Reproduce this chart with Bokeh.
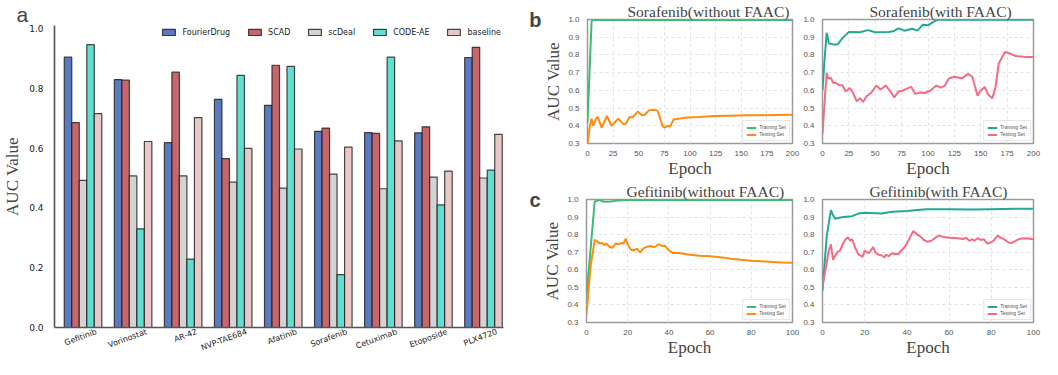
from bokeh.plotting import figure
from bokeh.layouts import row, column
from bokeh.models import (ColumnDataSource, Range1d, FixedTicker, Legend, LegendItem,
                          LinearAxis, PrintfTickFormatter)
from bokeh.transform import dodge
from bokeh.embed import file_html
from bokeh.resources import INLINE

# ---------------- panel a data ----------------
drugs = ["Gefitinib", "Vorinostat", "AR-42", "NVP-TAE684", "Afatinib",
         "Sorafenib", "Cetuximab", "Etoposide", "PLX4720"]
methods = ["FourierDrug", "SCAD", "scDeal", "CODE-AE", "baseline"]
fourierdrug = [0.904, 0.829, 0.618, 0.763, 0.743, 0.656, 0.652, 0.651, 0.903]
scad = [0.685, 0.827, 0.854, 0.565, 0.877, 0.667, 0.649, 0.671, 0.937]
scdeal = [0.492, 0.507, 0.507, 0.486, 0.466, 0.513, 0.464, 0.503, 0.500]
code_ae = [0.946, 0.330, 0.229, 0.843, 0.873, 0.177, 0.904, 0.410, 0.526]
baseline = [0.715, 0.622, 0.702, 0.599, 0.597, 0.603, 0.624, 0.523, 0.646]
method_colors = ["#5b7bc0", "#c9666c", "#d3d3d3", "#62ddd2", "#e9c8c8"]
a_yticks = [0.0, 0.2, 0.4, 0.6, 0.8, 1.0]

# ---------------- panel b/c data ----------------
sor_wo_train_x = [0, 4, 5, 25, 50, 75, 100, 125, 150, 175, 200]
sor_wo_train_y = [0.42, 0.99, 0.997, 0.997, 0.997, 0.997, 0.997, 0.997, 0.997, 0.997, 0.997]
sor_wo_test_x = [0, 2.4, 3.9, 5.4, 8.4, 10, 13.8, 19, 23.4, 30, 35, 37.5, 41, 44, 49, 53, 56,
                 60, 64, 68, 70.5, 73, 75, 78.4, 80.5, 84, 89, 97, 109, 124, 139, 154, 169, 185, 200]
sor_wo_test_y = [0.30, 0.40, 0.44, 0.40, 0.44, 0.45, 0.39, 0.455, 0.40, 0.44, 0.41, 0.412, 0.45,
                 0.448, 0.48, 0.46, 0.462, 0.487, 0.49, 0.487, 0.45, 0.40, 0.39, 0.40, 0.395,
                 0.435, 0.44, 0.447, 0.45, 0.455, 0.457, 0.459, 0.46, 0.461, 0.462]

sor_w_train_x = [0, 2, 4, 6, 11.4, 14.4, 19, 25, 35.5, 43, 50, 62.5, 67, 72, 77.6, 85, 90, 95,
                 100, 105, 109, 125, 150, 175, 200]
sor_w_train_y = [0.60, 0.78, 0.925, 0.866, 0.858, 0.86, 0.895, 0.93, 0.928, 0.94, 0.928, 0.93,
                 0.933, 0.95, 0.937, 0.948, 0.937, 0.97, 0.967, 0.987, 0.998, 0.998, 0.998, 0.998, 0.998]
sor_w_test_x = [0, 2.4, 4, 5.4, 8, 10, 13, 16, 19, 22, 26, 29, 32.5, 35.5, 38.5, 42, 46, 51, 55,
                60, 64.5, 68, 72, 76, 80, 84, 88, 92.6, 97, 102, 108, 112, 116, 120, 125, 132,
                138, 142, 147, 150, 154, 157, 161, 164, 167, 173, 177, 183, 192, 200]
sor_w_test_y = [0.354, 0.57, 0.70, 0.668, 0.67, 0.643, 0.64, 0.63, 0.627, 0.593, 0.613, 0.585,
                0.538, 0.556, 0.535, 0.568, 0.585, 0.627, 0.605, 0.627, 0.593, 0.56, 0.593,
                0.598, 0.61, 0.62, 0.58, 0.588, 0.585, 0.598, 0.627, 0.615, 0.627, 0.668, 0.677,
                0.668, 0.693, 0.677, 0.57, 0.60, 0.618, 0.576, 0.556, 0.618, 0.752, 0.816, 0.81,
                0.794, 0.789, 0.789]

gef_wo_train_x = [0, 4, 5, 6, 8, 9.5, 12, 15.5, 20, 40, 60, 80, 100]
gef_wo_train_y = [0.45, 0.99, 0.99, 1.0, 0.988, 0.987, 0.988, 0.995, 0.997, 0.997, 0.997, 0.997, 0.997]
gef_wo_test_x = [0, 2, 4, 5.3, 6.5, 7.7, 8.7, 9.5, 11.3, 12.5, 14.3, 15.5, 16.7, 18, 19, 20,
                 21.5, 23, 24.5, 26, 27.5, 29, 31, 33, 35, 37, 38, 40, 42, 45, 50, 55, 60, 65,
                 70, 75, 80, 85, 90, 95, 100]
gef_wo_test_y = [0.347, 0.62, 0.77, 0.76, 0.75, 0.752, 0.74, 0.75, 0.73, 0.725, 0.75, 0.745,
                 0.752, 0.75, 0.777, 0.745, 0.715, 0.71, 0.72, 0.697, 0.72, 0.73, 0.735, 0.728,
                 0.745, 0.735, 0.737, 0.71, 0.695, 0.695, 0.685, 0.68, 0.677, 0.672, 0.663,
                 0.657, 0.652, 0.648, 0.645, 0.642, 0.64]

gef_w_train_x = [0, 2, 4, 5, 6, 8, 10, 14, 17, 20, 28, 33, 40, 49, 60, 70, 80, 91, 100]
gef_w_train_y = [0.48, 0.79, 0.94, 0.91, 0.89, 0.896, 0.90, 0.905, 0.92, 0.925, 0.92, 0.93,
                 0.935, 0.945, 0.945, 0.943, 0.945, 0.947, 0.947]
gef_w_test_x = [0, 2, 3, 4, 5, 6, 7, 8.4, 9.5, 10.7, 12, 13.2, 14, 15.5, 17, 19, 20, 21, 22, 24,
                25, 26.5, 28, 29.5, 30, 31.3, 33, 34.3, 36, 37.3, 39, 41, 43, 45, 46.3, 48,
                49.6, 51.6, 54, 55.3, 57.6, 60, 64, 66.6, 68, 69.6, 71, 72, 73.4, 75, 76.4, 78,
                79.4, 81, 83, 84.6, 86, 88.4, 90, 91.4, 93.7, 96.7, 100]
gef_w_test_y = [0.506, 0.64, 0.71, 0.745, 0.657, 0.68, 0.70, 0.71, 0.745, 0.77, 0.785, 0.765,
                0.775, 0.725, 0.688, 0.674, 0.71, 0.70, 0.695, 0.73, 0.70, 0.685, 0.682, 0.67,
                0.687, 0.677, 0.694, 0.69, 0.69, 0.71, 0.73, 0.774, 0.82, 0.80, 0.79, 0.77,
                0.76, 0.765, 0.787, 0.795, 0.786, 0.782, 0.78, 0.775, 0.782, 0.765, 0.774,
                0.765, 0.78, 0.77, 0.774, 0.75, 0.754, 0.765, 0.794, 0.782, 0.774, 0.754,
                0.754, 0.765, 0.777, 0.78, 0.774]

auc_ticks = [0.3, 0.4, 0.5, 0.6, 0.7, 0.8, 0.9, 1.0]
sor_epoch_ticks = [0, 25, 50, 75, 100, 125, 150, 175, 200]
gef_epoch_ticks = [0, 20, 40, 60, 80, 100]

GREEN, ORANGE, TEAL, PINK = "#3dba74", "#ff8c0f", "#25a798", "#f46b82"
SANS = "DejaVu Sans"
SERIF = "Liberation Serif"
LABEL_SHIFT = 0.27   # rotated category labels end a little right of the group centre


def panel_a():
    src = ColumnDataSource(dict(x=list(range(len(drugs))), FourierDrug=fourierdrug,
                                SCAD=scad, scDeal=scdeal, CODE_AE=code_ae, baseline=baseline))
    p = figure(width=526, height=359, x_range=Range1d(-0.57, 8.4), y_range=Range1d(0, 1.01),
               output_backend="svg", toolbar_location=None,
               min_border_left=40, min_border_right=23, min_border_top=0, min_border_bottom=26)
    cols = ["FourierDrug", "SCAD", "scDeal", "CODE_AE", "baseline"]
    offsets = [-0.3, -0.15, 0.0, 0.15, 0.3]
    items = []
    for name, col, off, color in zip(methods, cols, offsets, method_colors):
        r = p.vbar(x=dodge("x", off), top=col, width=0.15, source=src, fill_color=color,
                   line_color="#1a1a1a", line_alpha=0.8, line_width=1.2)
        items.append(LegendItem(label=name, renderers=[r]))
    leg = Legend(items=items, orientation="horizontal", location="top_right", margin=0,
                 padding=2, spacing=16, glyph_width=16, glyph_height=8, label_height=10,
                 label_standoff=6, label_text_font=SANS, label_text_font_size="8px",
                 label_text_color="#222222", background_fill_alpha=0, border_line_alpha=0)
    p.add_layout(leg)
    p.title.text = "a"
    p.title.align = "left"
    p.title.offset = -38
    p.title.text_font = "Liberation Sans"
    p.title.text_font_size = "21px"
    p.title.text_font_style = "normal"
    p.title.standoff = 0
    p.xgrid.grid_line_color = None
    p.ygrid.grid_line_color = None
    p.outline_line_color = None
    tick_pos = [i + LABEL_SHIFT for i in range(len(drugs))]
    p.xaxis.ticker = FixedTicker(ticks=tick_pos)
    p.xaxis.major_label_overrides = {t: d for t, d in zip(tick_pos, drugs)}
    p.xaxis.major_label_orientation = 0.35
    p.xaxis.major_label_standoff = -2
    p.yaxis.ticker = FixedTicker(ticks=a_yticks)
    p.yaxis.formatter = PrintfTickFormatter(format="%.1f")
    for ax in (p.xaxis[0], p.yaxis[0]):
        ax.axis_line_color = "#555555"
        ax.axis_line_width = 1.6
        ax.major_tick_line_color = None
        ax.minor_tick_line_color = None
        ax.major_label_text_font = SANS
        ax.major_label_text_color = "#222222"
    p.xaxis.major_label_text_font_size = "8px"
    p.yaxis.major_label_text_font_size = "9px"
    p.yaxis.major_label_standoff = 5
    p.yaxis.axis_label = "AUC Value"
    p.yaxis.axis_label_text_font = SERIF
    p.yaxis.axis_label_text_font_size = "17px"
    p.yaxis.axis_label_text_font_style = "normal"
    p.yaxis.axis_label_standoff = 4
    return p


def small_panel(title, tr_x, tr_y, te_x, te_y, xmax, xticks, c_tr, c_te, width, height,
                bl, br, bt, bb, ylabel, title_offset, letter=None):
    p = figure(width=width, height=height, x_range=Range1d(0, xmax), y_range=Range1d(0.3, 1.0),
               output_backend="svg", toolbar_location=None,
               min_border_left=bl, min_border_right=br, min_border_top=bt, min_border_bottom=bb)
    r1 = p.line(tr_x, tr_y, line_color=c_tr, line_width=2)
    r2 = p.line(te_x, te_y, line_color=c_te, line_width=2)
    p.title.text = title
    p.title.align = "left"
    p.title.offset = title_offset
    p.title.text_font = SERIF
    p.title.text_font_size = "15.5px"
    p.title.text_font_style = "normal"
    p.title.standoff = 0
    p.outline_line_color = "#9a9a9a"
    p.outline_line_width = 1.5
    p.grid.grid_line_color = "#e2e2e2"
    p.grid.grid_line_dash = "3 3"
    p.xaxis.ticker = FixedTicker(ticks=xticks)
    p.yaxis.ticker = FixedTicker(ticks=auc_ticks)
    p.yaxis.formatter = PrintfTickFormatter(format="%.1f")
    for ax in (p.xaxis[0], p.yaxis[0]):
        ax.axis_line_color = None
        ax.major_tick_line_color = None
        ax.minor_tick_line_color = None
        ax.major_label_text_font = "Liberation Sans"
        ax.major_label_text_font_size = "8px"
        ax.major_label_text_color = "#555555"
        ax.major_label_standoff = 2
    p.xaxis.axis_label = "Epoch"
    p.xaxis.axis_label_text_font = SERIF
    p.xaxis.axis_label_text_font_size = "17px"
    p.xaxis.axis_label_text_font_style = "normal"
    p.xaxis.axis_label_standoff = 0
    p.xaxis.major_label_standoff = 1
    if ylabel:
        p.yaxis.axis_label = "AUC Value"
        p.yaxis.axis_label_text_font = SERIF
        p.yaxis.axis_label_text_font_size = "17px"
        p.yaxis.axis_label_text_font_style = "normal"
        p.yaxis.axis_label_standoff = 2
    leg = Legend(items=[LegendItem(label="Training Set", renderers=[r1]),
                        LegendItem(label="Testing Set", renderers=[r2])],
                 location="bottom_right", margin=2, padding=3, spacing=1, glyph_width=10,
                 glyph_height=5, label_height=5, label_standoff=3,
                 label_text_font="Liberation Sans", label_text_font_size="5px",
                 label_text_color="#555555", border_line_color="#d0d0d0",
                 border_line_width=1, background_fill_color="white")
    p.add_layout(leg)
    if letter is not None:
        lax = LinearAxis(ticker=FixedTicker(ticks=[]), axis_label=letter,
                         axis_line_color=None, major_tick_line_color=None,
                         minor_tick_line_color=None, axis_label_standoff=0)
        lax.axis_label_text_font = "Liberation Sans"
        lax.axis_label_text_font_size = "20px"
        lax.axis_label_text_font_style = "bold"
        try:
            lax.axis_label_orientation = "horizontal"
        except Exception:
            pass
        try:
            lax.axis_label_align = "end"
        except Exception:
            pass
        p.add_layout(lax, "left")
    return p


pa = panel_a()
b1 = small_panel("Sorafenib(without FAAC)", sor_wo_train_x, sor_wo_train_y, sor_wo_test_x,
                 sor_wo_test_y, 200, sor_epoch_ticks, GREEN, ORANGE, 274, 180, 52, 8, 19, 30,
                 True, 40, "b")
b2 = small_panel("Sorafenib(with FAAC)", sor_w_train_x, sor_w_train_y, sor_w_test_x,
                 sor_w_test_y, 200, sor_epoch_ticks, TEAL, PINK, 242, 180, 22, 9, 19, 30,
                 False, 47)
c1 = small_panel("Gefitinib(without  FAAC)", gef_wo_train_x, gef_wo_train_y, gef_wo_test_x,
                 gef_wo_test_y, 100, gef_epoch_ticks, GREEN, ORANGE, 274, 179, 52, 8, 19, 30,
                 True, 40, "c")
c2 = small_panel("Gefitinib(with FAAC)", gef_w_train_x, gef_w_train_y, gef_w_test_x,
                 gef_w_test_y, 100, gef_epoch_ticks, TEAL, PINK, 242, 179, 22, 9, 19, 30,
                 False, 47)

layout = row(pa, column(row(b1, b2), row(c1, c2)))
open("out.html", "w").write(file_html(layout, INLINE))
